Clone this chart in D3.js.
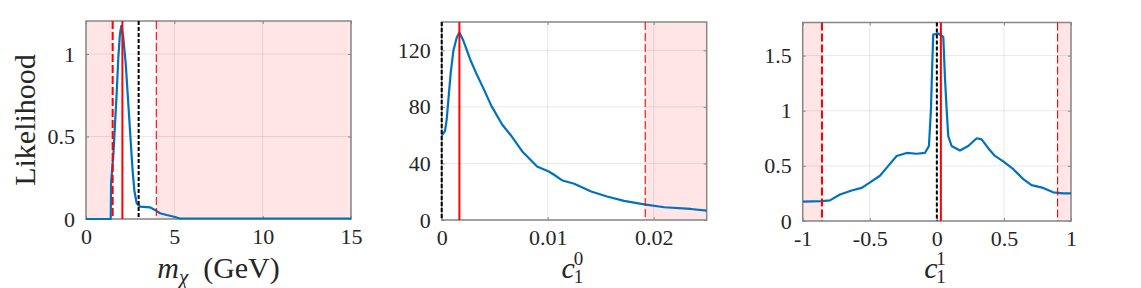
<!DOCTYPE html>
<html><head><meta charset="utf-8">
<script src="https://cdn.jsdelivr.net/npm/d3@7"></script>
<style>
html,body{margin:0;padding:0;background:#fff;}
svg{display:block;}
</style></head>
<body>
<svg id="chart" width="1141" height="288"></svg>
<script>
// ---------- data ----------
const mchiX = [0, 1.40, 1.42, 1.55, 1.64, 1.74, 1.83, 1.92, 2.00, 2.11, 2.25, 2.40, 2.53, 2.64, 2.74, 2.87, 3.06, 3.62, 3.90, 4.19, 4.57, 5.04, 5.30, 15];
const mchiY = [0, 0, 0.22, 0.39, 0.57, 0.77, 0.98, 1.12, 1.17, 1.10, 0.94, 0.69, 0.47, 0.29, 0.17, 0.095, 0.075, 0.071, 0.055, 0.035, 0.024, 0.012, 0.003, 0.003];

const c10X = [0, 0.00031, 0.00047, 0.00063, 0.00085, 0.0011, 0.00142, 0.00167, 0.00205, 0.00268, 0.0033, 0.0039, 0.0047, 0.0057, 0.0066, 0.0076, 0.0090, 0.0101, 0.0106, 0.0114, 0.0125, 0.0141, 0.0156, 0.0172, 0.0191, 0.0210, 0.0235, 0.0250];
const c10Y = [59.7, 62.8, 71, 85, 104, 119.6, 129, 132.6, 126.7, 113.7, 103, 93.6, 80.5, 67.5, 59.2, 48.5, 37.9, 34.3, 32, 27.9, 25.6, 20.1, 16.6, 13.5, 11.1, 9.0, 7.8, 6.6];

const c11X = [-1, -0.856, -0.797, -0.722, -0.635, -0.56, -0.498, -0.424, -0.362, -0.30, -0.225, -0.15, -0.089, -0.059, -0.044, -0.034, -0.027, 0.01, 0.048, 0.06, 0.073, 0.085, 0.11, 0.172, 0.234, 0.297, 0.334, 0.383, 0.433, 0.495, 0.57, 0.644, 0.706, 0.793, 0.867, 0.942, 1.0];
const c11Y = [0.175, 0.18, 0.187, 0.24, 0.277, 0.30, 0.35, 0.41, 0.50, 0.59, 0.617, 0.61, 0.617, 0.68, 1.01, 1.43, 1.69, 1.70, 1.67, 1.31, 1.01, 0.77, 0.68, 0.64, 0.68, 0.75, 0.74, 0.66, 0.59, 0.54, 0.47, 0.38, 0.325, 0.30, 0.26, 0.25, 0.25];

// tick values
const mchiXTicks = [0, 5, 10, 15];
const mchiYTicks = [0, 0.5, 1];
const c10XTicks = [0, 0.01, 0.02];
const c10YTicks = [0, 40, 80, 120];
const c11XTicks = [-1, -0.5, 0, 0.5, 1];
const c11YTicks = [0, 0.5, 1, 1.5];

// reference lines: [lower bound, best fit, upper bound, true value]
const mchiMarks = [1.51, 2.06, 3.98, 2.98];
const c10Marks = [0, 0.00167, 0.0192, 0];
const c11Marks = [-0.856, 0.03, 0.90, 0];

// ---------- layout ----------
const FONT = '"Liberation Serif", Tinos, "Times New Roman", "DejaVu Serif", serif';
const svg = d3.select("#chart");
const panels = [
  {x: mchiX, y: mchiY, xd: [0, 15], yd: [0, 1.2], xt: mchiXTicks, yt: mchiYTicks, marks: mchiMarks,
   box: {l: 86, r: 351, t: 21, b: 219}, label: "mchi", ylabel: true},
  {x: c10X, y: c10Y, xd: [0, 0.025], yd: [0, 140], xt: c10XTicks, yt: c10YTicks, marks: c10Marks,
   box: {l: 441.7, r: 706.7, t: 22, b: 220}, label: "c10"},
  {x: c11X, y: c11Y, xd: [-1, 1], yd: [0, 1.8], xt: c11XTicks, yt: c11YTicks, marks: c11Marks,
   box: {l: 802.7, r: 1071, t: 22.5, b: 221}, label: "c11"}
];

const pink = "#ffe5e6";
const axisCol = "#878787";
const blue = "#0072BD";
const fmt = d => String(d);

function styleText(sel, size) {
  sel.style("font-family", FONT).style("font-size", size + "px").style("fill", "#262626");
}

panels.forEach(p => {
  const B = p.box;
  const xs = d3.scaleLinear().domain(p.xd).range([B.l, B.r]);
  const ys = d3.scaleLinear().domain(p.yd).range([B.b, B.t]);
  const g = svg.append("g");
  const [lo, best, hi, truth] = p.marks;

  // shaded excluded regions
  if (lo > p.xd[0]) g.append("rect").attr("x", xs(p.xd[0])).attr("y", B.t).attr("width", xs(lo) - xs(p.xd[0])).attr("height", B.b - B.t).attr("fill", pink);
  if (hi < p.xd[1]) g.append("rect").attr("x", xs(hi)).attr("y", B.t).attr("width", xs(p.xd[1]) - xs(hi)).attr("height", B.b - B.t).attr("fill", pink);

  // grid
  g.selectAll(".gx").data(p.xt).enter().append("line")
    .attr("x1", d => xs(d)).attr("x2", d => xs(d)).attr("y1", B.t).attr("y2", B.b)
    .attr("stroke", "rgba(0,0,0,0.09)").attr("stroke-width", 1);
  g.selectAll(".gy").data(p.yt).enter().append("line")
    .attr("y1", d => ys(d)).attr("y2", d => ys(d)).attr("x1", B.l).attr("x2", B.r)
    .attr("stroke", "rgba(0,0,0,0.09)").attr("stroke-width", 1);

  // axes with d3 axis generators (inner ticks)
  const tl = 3;
  g.append("g").attr("transform", `translate(0,${B.b})`)
    .call(d3.axisBottom(xs).tickValues(p.xt).tickSize(-tl).tickPadding(9).tickFormat(fmt))
    .call(a => { a.select(".domain").remove(); a.selectAll("line").attr("stroke", axisCol);
      styleText(a.selectAll("text").attr("dy", "0.71em"), 22); });
  g.append("g").attr("transform", `translate(0,${B.t})`)
    .call(d3.axisTop(xs).tickValues(p.xt).tickSize(-tl).tickFormat(""))
    .call(a => { a.select(".domain").remove(); a.selectAll("line").attr("stroke", axisCol); });
  g.append("g").attr("transform", `translate(${B.l},0)`)
    .call(d3.axisLeft(ys).tickValues(p.yt).tickSize(-tl).tickPadding(11).tickFormat(fmt))
    .call(a => { a.select(".domain").remove(); a.selectAll("line").attr("stroke", axisCol);
      styleText(a.selectAll("text"), 22); });
  g.append("g").attr("transform", `translate(${B.r},0)`)
    .call(d3.axisRight(ys).tickValues(p.yt).tickSize(-tl).tickFormat(""))
    .call(a => { a.select(".domain").remove(); a.selectAll("line").attr("stroke", axisCol); });

  // box
  g.append("rect").attr("x", B.l).attr("y", B.t).attr("width", B.r - B.l).attr("height", B.b - B.t)
    .attr("fill", "none").attr("stroke", axisCol).attr("stroke-width", 1.5);

  // likelihood curve
  const pts = p.x.map((v, i) => [v, p.y[i]]);
  g.append("path").datum(pts)
    .attr("d", d3.line().x(d => xs(d[0])).y(d => ys(d[1])))
    .attr("fill", "none").attr("stroke", blue).attr("stroke-width", 2.2).attr("stroke-linejoin", "round");

  // vertical reference lines
  const vline = (v, color, w, dash) => {
    g.append("line").attr("x1", xs(v)).attr("x2", xs(v)).attr("y1", B.t).attr("y2", B.b)
      .attr("stroke", color).attr("stroke-width", w).attr("stroke-dasharray", dash);
  };
  vline(truth, "#000", 2, "4,2");
  if (lo > p.xd[0]) vline(lo, "#ff0000", 2, "8,3");
  vline(hi, "#ff0000", 1.1, "8,3");
  vline(best, "#ff0000", 2, null);

  // x labels
  const cx = (B.l + B.r) / 2;
  if (p.label === "mchi") {
    const t = g.append("text").attr("x", cx).attr("y", 278).attr("text-anchor", "middle");
    styleText(t, 30);
    t.append("tspan").style("font-style", "italic").text("m");
    t.append("tspan").style("font-style", "italic").style("font-size", "21px").attr("dy", 6).text("χ");
    t.append("tspan").attr("dy", -6).text("\u2002(GeV)");
  } else {
    const sup = p.label === "c10" ? "0" : "1";
    const t = g.append("text").attr("x", cx - 6).attr("y", 278).attr("text-anchor", "middle");
    styleText(t, 30);
    t.append("tspan").style("font-style", "italic").text("c");
    const s1 = g.append("text").attr("x", cx - 0.5).attr("y", 265);
    styleText(s1, 19); s1.text(sup);
    const s2 = g.append("text").attr("x", cx - 0.5).attr("y", 283);
    styleText(s2, 19); s2.text("1");
  }
  if (p.ylabel) {
    const t = g.append("text").attr("transform", `translate(35,${(B.t + B.b) / 2}) rotate(-90)`)
      .attr("text-anchor", "middle").text("Likelihood");
    styleText(t, 30);
  }
});
</script>
</body></html>
